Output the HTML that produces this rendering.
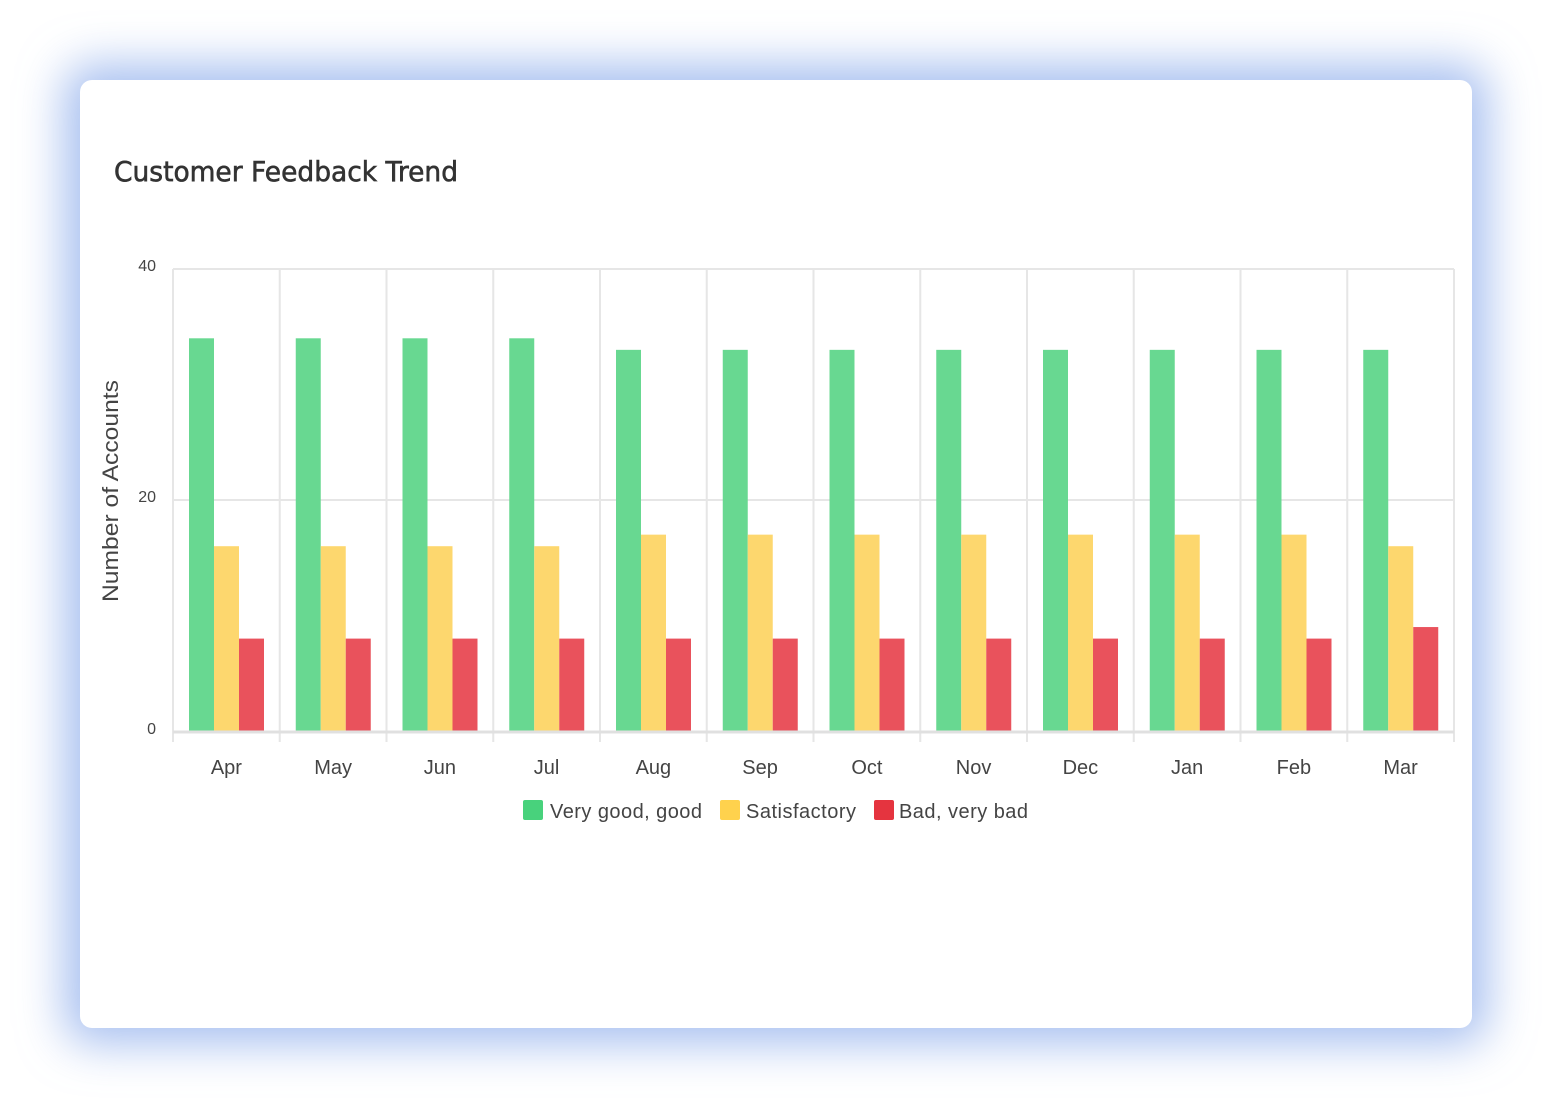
<!DOCTYPE html>
<html><head><meta charset="utf-8"><style>
html,body{margin:0;padding:0;background:#fff;width:1552px;height:1108px;overflow:hidden}
.card{position:absolute;left:80px;top:80px;width:1392px;height:948px;background:#fff;border-radius:12px;box-shadow:0 0 45px 16px rgba(110,150,230,0.6)}
svg{position:absolute;left:0;top:0}
</style></head><body>
<div class="card"></div>
<svg width="1552" height="1108" font-family="Liberation Sans, sans-serif">
<text x="114" y="181" font-size="28" fill="#333" stroke="#333" stroke-width="0.6" font-family="DejaVu Sans, sans-serif" textLength="344" lengthAdjust="spacingAndGlyphs">Customer Feedback Trend</text>
<g stroke="#e6e6e6" stroke-width="2" fill="none">
<line x1="173" y1="269" x2="1454" y2="269"/>
<line x1="173" y1="500" x2="1454" y2="500"/>
<line x1="173" y1="269" x2="173" y2="742"/>
<line x1="279.75" y1="269" x2="279.75" y2="742"/>
<line x1="386.5" y1="269" x2="386.5" y2="742"/>
<line x1="493.25" y1="269" x2="493.25" y2="742"/>
<line x1="600" y1="269" x2="600" y2="742"/>
<line x1="706.75" y1="269" x2="706.75" y2="742"/>
<line x1="813.5" y1="269" x2="813.5" y2="742"/>
<line x1="920.25" y1="269" x2="920.25" y2="742"/>
<line x1="1027" y1="269" x2="1027" y2="742"/>
<line x1="1133.75" y1="269" x2="1133.75" y2="742"/>
<line x1="1240.5" y1="269" x2="1240.5" y2="742"/>
<line x1="1347.25" y1="269" x2="1347.25" y2="742"/>
<line x1="1454" y1="269" x2="1454" y2="742"/>
</g>
<g fill="#68d891">
<rect x="189" y="338.3" width="25" height="392.7"/>
<rect x="295.75" y="338.3" width="25" height="392.7"/>
<rect x="402.5" y="338.3" width="25" height="392.7"/>
<rect x="509.25" y="338.3" width="25" height="392.7"/>
<rect x="616" y="349.85" width="25" height="381.15"/>
<rect x="722.75" y="349.85" width="25" height="381.15"/>
<rect x="829.5" y="349.85" width="25" height="381.15"/>
<rect x="936.25" y="349.85" width="25" height="381.15"/>
<rect x="1043" y="349.85" width="25" height="381.15"/>
<rect x="1149.75" y="349.85" width="25" height="381.15"/>
<rect x="1256.5" y="349.85" width="25" height="381.15"/>
<rect x="1363.25" y="349.85" width="25" height="381.15"/>
</g>
<g fill="#fdd76e">
<rect x="214" y="546.2" width="25" height="184.8"/>
<rect x="320.75" y="546.2" width="25" height="184.8"/>
<rect x="427.5" y="546.2" width="25" height="184.8"/>
<rect x="534.25" y="546.2" width="25" height="184.8"/>
<rect x="641" y="534.65" width="25" height="196.35"/>
<rect x="747.75" y="534.65" width="25" height="196.35"/>
<rect x="854.5" y="534.65" width="25" height="196.35"/>
<rect x="961.25" y="534.65" width="25" height="196.35"/>
<rect x="1068" y="534.65" width="25" height="196.35"/>
<rect x="1174.75" y="534.65" width="25" height="196.35"/>
<rect x="1281.5" y="534.65" width="25" height="196.35"/>
<rect x="1388.25" y="546.2" width="25" height="184.8"/>
</g>
<g fill="#e9525c">
<rect x="239" y="638.6" width="25" height="92.4"/>
<rect x="345.75" y="638.6" width="25" height="92.4"/>
<rect x="452.5" y="638.6" width="25" height="92.4"/>
<rect x="559.25" y="638.6" width="25" height="92.4"/>
<rect x="666" y="638.6" width="25" height="92.4"/>
<rect x="772.75" y="638.6" width="25" height="92.4"/>
<rect x="879.5" y="638.6" width="25" height="92.4"/>
<rect x="986.25" y="638.6" width="25" height="92.4"/>
<rect x="1093" y="638.6" width="25" height="92.4"/>
<rect x="1199.75" y="638.6" width="25" height="92.4"/>
<rect x="1306.5" y="638.6" width="25" height="92.4"/>
<rect x="1413.25" y="627.05" width="25" height="103.95"/>
</g>
<line x1="173" y1="732" x2="1454" y2="732" stroke="#e0e0e0" stroke-width="3"/>
<g font-size="16" fill="#444" text-anchor="end">
<text x="156" y="271">40</text>
<text x="156" y="502">20</text>
<text x="156" y="734">0</text>
</g>
<text transform="translate(118,491) rotate(-90)" font-size="22" fill="#444" text-anchor="middle" textLength="222" lengthAdjust="spacingAndGlyphs">Number of Accounts</text>
<g font-size="20" fill="#444" text-anchor="middle">
<text x="226.4" y="774">Apr</text>
<text x="333.1" y="774">May</text>
<text x="439.9" y="774">Jun</text>
<text x="546.6" y="774">Jul</text>
<text x="653.4" y="774">Aug</text>
<text x="760.1" y="774">Sep</text>
<text x="866.9" y="774">Oct</text>
<text x="973.6" y="774">Nov</text>
<text x="1080.4" y="774">Dec</text>
<text x="1187.1" y="774">Jan</text>
<text x="1293.9" y="774">Feb</text>
<text x="1400.6" y="774">Mar</text>
</g>
<rect x="523" y="800" width="20" height="20" rx="2" fill="#48d27c"/>
<rect x="720" y="800" width="20" height="20" rx="2" fill="#ffd24d"/>
<rect x="874" y="800" width="20" height="20" rx="2" fill="#e5343f"/>
<g font-size="20" fill="#444">
<text x="550" y="818" textLength="152">Very good, good</text>
<text x="746" y="818" textLength="110">Satisfactory</text>
<text x="899" y="818" textLength="129">Bad, very bad</text>
</g>
</svg>
</body></html>
